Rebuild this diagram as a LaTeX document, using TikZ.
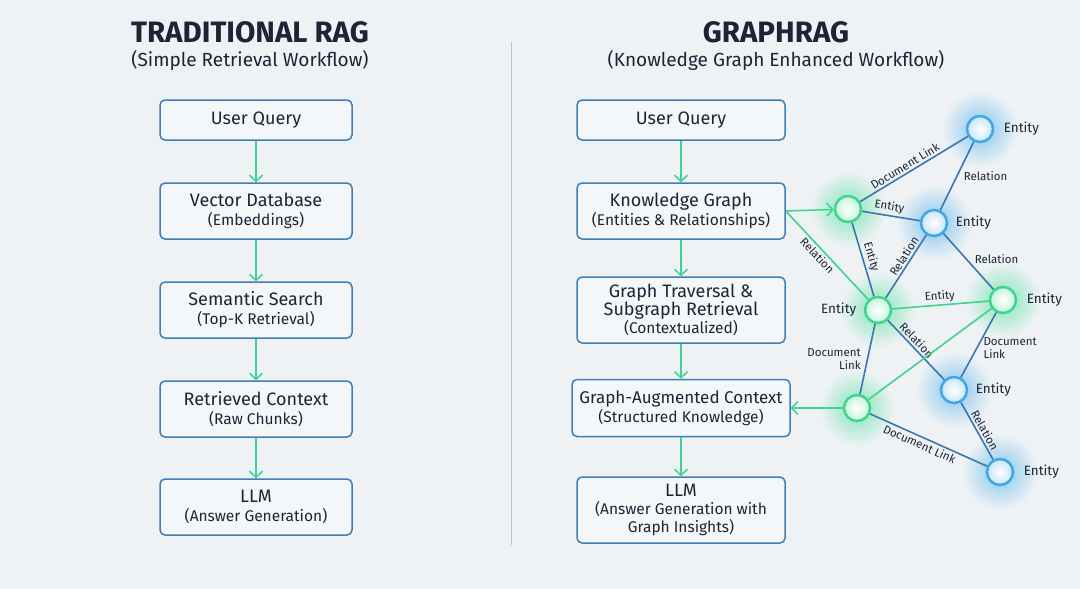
\documentclass[tikz,border=0pt]{standalone}
\usepackage{fontspec}
\setmainfont{Fira Sans}
\usetikzlibrary{arrows.meta,backgrounds}

\definecolor{bgcol}{HTML}{EEF2F5}
\definecolor{boxline}{HTML}{3F7FB5}
\definecolor{boxfill}{HTML}{F3F7FA}
\definecolor{flowgreen}{HTML}{3DD390}
\definecolor{linkblue}{HTML}{3A77B0}
\definecolor{inkcol}{HTML}{1B2535}
\definecolor{entgreen}{HTML}{3ED68E}
\definecolor{entblue}{HTML}{40A6E4}
\definecolor{divcol}{HTML}{BFC6CD}

\newcommand{\subline}[1]{{\fontsize{15.5}{18}\selectfont #1}}

\tikzset{
  stepbox/.style={draw=boxline, line width=1.5pt, rounded corners=5pt, fill=boxfill,
    text=inkcol, align=center, inner sep=2pt, minimum width=192pt, minimum height=40pt,
    font=\fontsize{18}{19}\selectfont},
  flow/.style={draw=flowgreen, line width=1.5pt, -{Straight Barb[length=6pt,width=13pt]}},
  link/.style={draw=linkblue, line width=1.6pt},
  glink/.style={draw=flowgreen, line width=1.6pt},
  ent/.style={circle, minimum size=26pt, inner sep=0pt, line width=2.5pt},
  entg/.style={ent, draw=entgreen, inner color=white, outer color=entgreen!30},
  entb/.style={ent, draw=entblue, inner color=white, outer color=entblue!30},
  elabel/.style={font=\fontsize{13.5}{14}\selectfont, text=inkcol},
  lbl/.style={font=\fontsize{11.5}{13}\selectfont, text=inkcol, inner sep=2pt},
}

\begin{document}
\begin{tikzpicture}[x=1pt, y=-1pt]
\useasboundingbox (0,0) rectangle (1080,589);

% titles
\node[font=\fontsize{29.5}{32}\bfseries, text=inkcol] (ltitle) at (250,32) {TRADITIONAL RAG};
\node[font=\fontsize{19}{21}\selectfont, text=inkcol] (lsub) at (250,60) {(Simple Retrieval Workflow)};
\node[font=\fontsize{29.5}{32}\bfseries, text=inkcol] (rtitle) at (776,32) {GRAPHRAG};
\node[font=\fontsize{19}{21}\selectfont, text=inkcol] (rsub) at (776,60) {(Knowledge Graph Enhanced Workflow)};

\draw[divcol, line width=1pt] (511,42) -- (511,545);

% traditional RAG
\node[stepbox] (lq) at (256,120) {User Query};
\node[stepbox, minimum height=56pt] (ld) at (256,211) {Vector Database\\\subline{(Embeddings)}};
\node[stepbox, minimum height=56pt] (ls) at (256,310) {Semantic Search\\\subline{(Top-K Retrieval)}};
\node[stepbox, minimum height=56pt] (lc) at (256,409) {Retrieved Context\\\subline{(Raw Chunks)}};
\node[stepbox, minimum height=56pt] (ll) at (256,507) {LLM\\\subline{(Answer Generation)}};

\draw[flow] (lq) -- (ld);
\draw[flow] (ld) -- (ls);
\draw[flow] (ls) -- (lc);
\draw[flow] (lc) -- (ll);

% GraphRAG
\node[stepbox, minimum width=208pt] (rq) at (681,120) {User Query};
\node[stepbox, minimum width=208pt, minimum height=56pt] (rk) at (681,211) {Knowledge Graph\\\subline{(Entities \& Relationships)}};
\node[stepbox, minimum width=208pt, minimum height=66pt, font=\fontsize{18}{18}\selectfont] (rt) at (681,310) {Graph Traversal \&\\Subgraph Retrieval\\\subline{(Contextualized)}};
\node[stepbox, minimum width=218pt, minimum height=57pt, font=\fontsize{17}{19}\selectfont] (ra) at (681,408) {Graph-Augmented Context\\\subline{(Structured Knowledge)}};
\node[stepbox, minimum width=208pt, minimum height=66pt, font=\fontsize{18}{18}\selectfont] (rl) at (681,510) {LLM\\\subline{(Answer Generation with}\\\subline{Graph Insights)}};

\draw[flow] (rq) -- (rk);
\draw[flow] (rk) -- (rt);
\draw[flow] (rt) -- (ra);
\draw[flow] (ra) -- (rl);

% knowledge graph
\node[entg] (n1) at (848,209) {};
\node[entb] (n2) at (980,129) {};
\node[entb] (n3) at (934,223) {};
\node[entg] (n4) at (878,310) {};
\node[entg] (n5) at (1003,300) {};
\node[entb] (n6) at (954,390) {};
\node[entg] (n7) at (857,408) {};
\node[entb] (n8) at (1000,472) {};

\node[elabel, right=6pt] (e2) at (n2.east) {Entity};
\node[elabel, right=4pt] (e3) at (n3.east) {Entity};
\node[elabel, left=4pt] (e4) at (n4.west) {Entity};
\node[elabel, right=6pt] (e5) at (n5.east) {Entity};
\node[elabel, right=4pt] (e6) at (n6.east) {Entity};
\node[elabel, right=6pt] (e8) at (n8.east) {Entity};

\draw[link] (n1) -- node[lbl, sloped, above, pos=0.45] {Document Link} (n2);
\draw[link] (n1) -- node[lbl, sloped, above, pos=0.45] {Entity} (n3);
\draw[link] (n2) -- node[lbl, right=4pt] {Relation} (n3);
\draw[link] (n1) -- node[lbl, sloped, above] {Entity} (n4);
\draw[link] (n4) -- node[lbl, sloped, above, pos=0.6] {Relation} (n3);
\draw[link] (n3) -- node[lbl, right=6pt, pos=0.45] {Relation} (n5);
\draw[glink] (n4) -- node[lbl, sloped, above] {Entity} (n5);
\draw[link] (n4) -- node[lbl, sloped, above, pos=0.42] {Relation} (n6);
\draw[link] (n4) -- node[lbl, left=4pt, align=right] {Document\\Link} (n7);
\draw[link] (n5) -- node[lbl, right=4pt, align=left, pos=0.55] {Document\\Link} (n6);
\draw[glink] (n5) -- (n7);
\draw[link] (n7) -- node[lbl, sloped, below, pos=0.45] {Document Link} (n8);
\draw[link] (n6) -- node[lbl, sloped, above, pos=0.55] {Relation} (n8);

\draw[flow] (rk.east) -- (n1);
\draw[glink] (rk.east) -- node[lbl, sloped, below, pos=0.45] {Relation} (n4);
\draw[flow] (n7) -- (ra.east);

% background and glow
\begin{scope}[on background layer]
  \fill[bgcol] (0,0) rectangle (1080,589);
  \foreach \n in {n1,n4,n5,n7}
    \shade[inner color=entgreen!65, outer color=bgcol] (\n) circle (38pt);
  \foreach \n in {n2,n3,n6,n8}
    \shade[inner color=entblue!65, outer color=bgcol] (\n) circle (38pt);
\end{scope}
\end{tikzpicture}
\end{document}
